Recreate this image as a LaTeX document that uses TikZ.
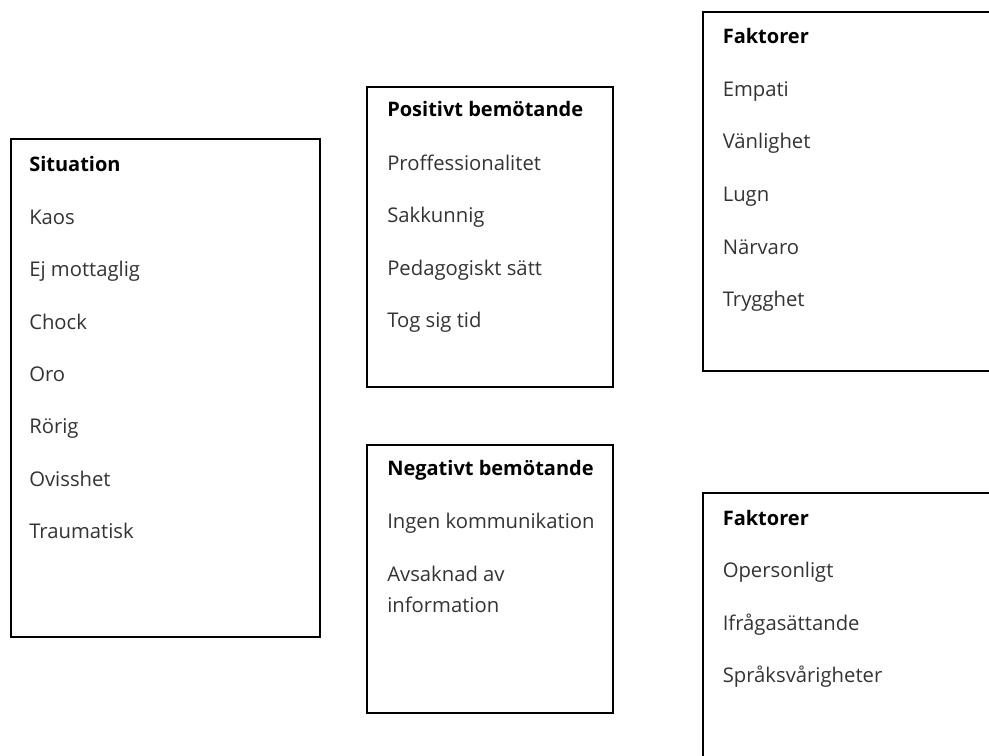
\documentclass[tikz,border=0pt]{standalone}
\usepackage{fontspec}
\setmainfont{Open Sans}
\definecolor{itemgray}{HTML}{333333}
\tikzset{x=0.75pt,y=-0.75pt}
\begin{document}
\begin{tikzpicture}[
  boxframe/.style={draw=black, line width=1.6pt},
  head/.style={anchor=base west, inner sep=0pt, font=\fontsize{15}{18}\selectfont\bfseries, text=black},
  item/.style={anchor=base west, inner sep=0pt, font=\fontsize{15.2}{18}\selectfont, text=itemgray}]
\useasboundingbox (0,0) rectangle (989,756);
\clip (0,0) rectangle (989,756);
% boxes
\draw[boxframe] (11,139) rectangle (320,637);
\draw[boxframe] (367,87) rectangle (613,387);
\draw[boxframe] (703,12) rectangle (1000,371);
\draw[boxframe] (367,445) rectangle (613,713);
\draw[boxframe] (703,493) rectangle (1000,780);
% Situation
\node[head] (s0) at (29,171.7) {Situation};
\node[item] (s1) at (29,224) {Kaos};
\node[item] (s2) at (29,276.5) {Ej mottaglig};
\node[item] (s3) at (29,329) {Chock};
\node[item] (s4) at (29,381) {Oro};
\node[item] (s5) at (29,433.5) {Rörig};
\node[item] (s6) at (29,486) {Ovisshet};
\node[item] (s7) at (29,538) {Traumatisk};
% Positivt
\node[head] (p0) at (387,116.5) {Positivt bemötande};
\node[item] (p1) at (387,170.5) {Proffessionalitet};
\node[item] (p2) at (387,223) {Sakkunnig};
\node[item] (p3) at (387,275) {Pedagogiskt sätt};
\node[item] (p4) at (387,327) {Tog sig tid};
% Faktorer top
\node[head] (f0) at (722.5,44) {Faktorer};
\node[item] (f1) at (722.5,96.5) {Empati};
\node[item] (f2) at (722.5,149) {Vänlighet};
\node[item] (f3) at (722.5,201.5) {Lugn};
\node[item] (f4) at (722.5,254) {Närvaro};
\node[item] (f5) at (722.5,306) {Trygghet};
% Negativt
\node[head] (n0) at (387,475.5) {Negativt bemötande};
\node[item] (n1) at (387,528) {Ingen kommunikation};
\node[item] (n2) at (387,581.5) {Avsaknad av};
\node[item] (n3) at (387,612.5) {information};
% Faktorer bottom
\node[head] (g0) at (722.5,525) {Faktorer};
\node[item] (g1) at (722.5,577.5) {Opersonligt};
\node[item] (g2) at (722.5,630) {Ifrågasättande};
\node[item] (g3) at (722.5,682) {Språksvårigheter};
\end{tikzpicture}
\end{document}
